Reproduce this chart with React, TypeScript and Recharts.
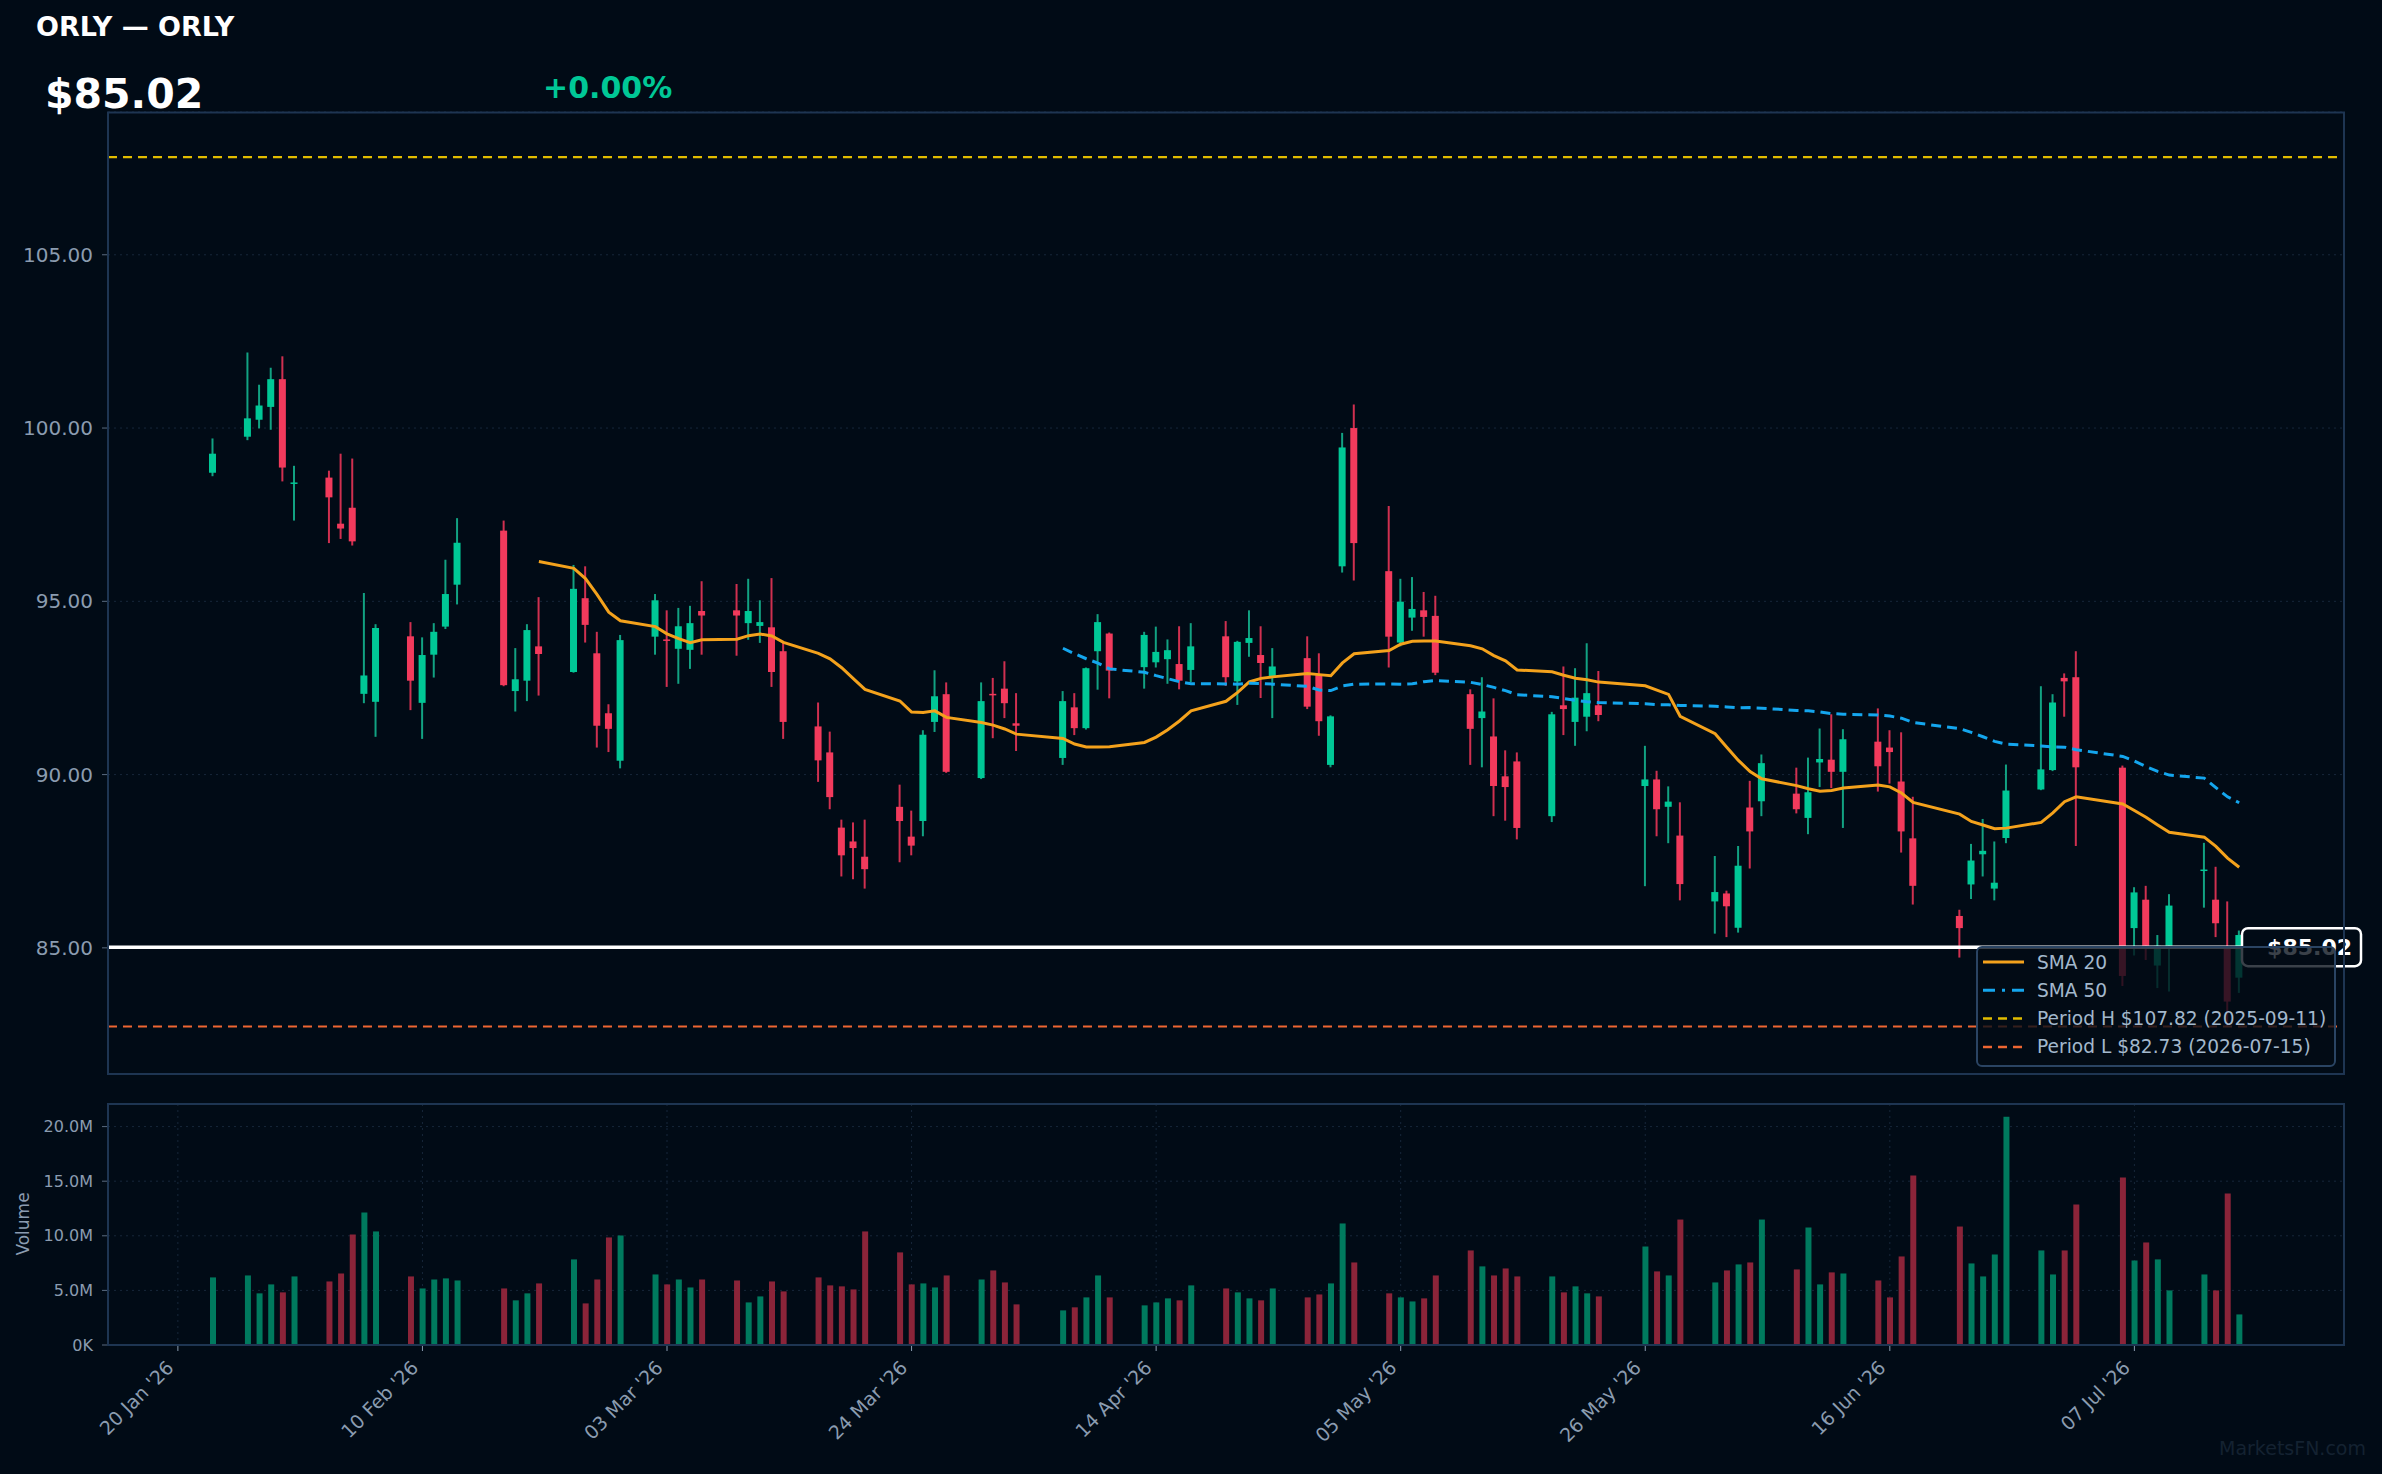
import React from 'react';
import { ComposedChart, Bar, Line, XAxis, YAxis, CartesianGrid, ReferenceLine, Cell } from 'recharts';

const dates = [
  '2026-01-23','2026-01-26','2026-01-27','2026-01-28','2026-01-29','2026-01-30',
  '2026-02-02','2026-02-03','2026-02-04','2026-02-05','2026-02-06','2026-02-09','2026-02-10','2026-02-11','2026-02-12','2026-02-13','2026-02-17','2026-02-18','2026-02-19','2026-02-20','2026-02-23','2026-02-24','2026-02-25','2026-02-26','2026-02-27',
  '2026-03-02','2026-03-03','2026-03-04','2026-03-05','2026-03-06','2026-03-09','2026-03-10','2026-03-11','2026-03-12','2026-03-13','2026-03-16','2026-03-17','2026-03-18','2026-03-19','2026-03-20','2026-03-23','2026-03-24','2026-03-25','2026-03-26','2026-03-27','2026-03-30','2026-03-31',
  '2026-04-01','2026-04-02','2026-04-06','2026-04-07','2026-04-08','2026-04-09','2026-04-10','2026-04-13','2026-04-14','2026-04-15','2026-04-16','2026-04-17','2026-04-20','2026-04-21','2026-04-22','2026-04-23','2026-04-24','2026-04-27','2026-04-28','2026-04-29','2026-04-30',
  '2026-05-01','2026-05-04','2026-05-05','2026-05-06','2026-05-07','2026-05-08','2026-05-11','2026-05-12','2026-05-13','2026-05-14','2026-05-15','2026-05-18','2026-05-19','2026-05-20','2026-05-21','2026-05-22','2026-05-26','2026-05-27','2026-05-28','2026-05-29',
  '2026-06-01','2026-06-02','2026-06-03','2026-06-04','2026-06-05','2026-06-08','2026-06-09','2026-06-10','2026-06-11','2026-06-12','2026-06-15','2026-06-16','2026-06-17','2026-06-18','2026-06-22','2026-06-23','2026-06-24','2026-06-25','2026-06-26','2026-06-29','2026-06-30',
  '2026-07-01','2026-07-02','2026-07-06','2026-07-07','2026-07-08','2026-07-09','2026-07-10','2026-07-13','2026-07-14','2026-07-15','2026-07-16',
];

const opens = [
  98.71, 99.75, 100.24, 100.61, 101.41, 98.40,
  98.57, 97.24, 97.70, 92.33, 92.10, 93.99, 92.07, 93.46, 94.27, 95.48, 97.04, 92.41, 92.71, 93.70, 92.96, 95.09, 93.50, 91.77, 90.40,
  93.98, 93.90, 93.63, 93.60, 94.72, 94.74, 94.37, 94.29, 94.25, 93.56, 91.39, 90.64, 88.47, 88.07, 87.63, 89.07, 88.21, 88.66, 91.52, 92.32, 89.90, 92.33,
  92.48, 91.48, 90.48, 91.94, 91.34, 93.56, 94.07, 93.10, 93.24, 93.33, 93.19, 93.02, 93.99, 92.69, 93.80, 93.45, 92.81, 93.36, 92.87, 90.28, 96.01,
  100.00, 95.87, 93.81, 94.53, 94.74, 94.58, 92.32, 91.63, 91.10, 89.95, 90.38, 88.80, 92.00, 91.52, 91.67, 92.00, 89.67, 89.86, 89.07, 88.24,
  86.34, 86.57, 85.58, 89.05, 89.23, 89.45, 88.75, 90.35, 90.43, 90.08, 90.95, 90.78, 89.80, 88.16, 85.92, 86.83, 87.70, 86.71, 88.17, 89.57, 90.13,
  92.79, 92.81, 90.20, 85.57, 86.39, 84.49, 85.06, 87.24, 86.39, 85.05, 84.14,
];

const highs = [
  99.70, 102.18, 101.25, 101.74, 102.07, 98.91,
  98.77, 99.26, 99.12, 95.24, 94.34, 94.40, 93.96, 94.37, 96.20, 97.40, 97.33, 93.65, 94.34, 95.12, 96.05, 96.01, 94.12, 92.03, 94.03,
  95.21, 94.74, 94.81, 94.87, 95.58, 95.50, 95.65, 95.03, 95.67, 93.81, 92.08, 91.24, 88.70, 88.62, 88.70, 89.71, 88.96, 91.28, 93.01, 92.66, 92.66, 92.79,
  93.27, 92.35, 92.41, 92.35, 93.09, 94.63, 94.10, 94.12, 94.27, 93.90, 94.28, 94.37, 94.43, 93.86, 94.74, 94.28, 93.65, 93.99, 93.50, 91.71, 99.86,
  100.68, 97.75, 95.65, 95.70, 95.27, 95.16, 92.46, 92.81, 92.20, 90.70, 90.64, 91.81, 93.12, 93.07, 93.79, 92.99, 90.83, 90.11, 89.66, 89.20,
  87.65, 86.65, 87.94, 89.82, 90.58, 90.20, 90.49, 91.33, 91.74, 91.31, 91.91, 91.28, 91.22, 89.36, 86.10, 88.00, 88.72, 88.07, 90.29, 92.55, 92.32,
  92.92, 93.56, 90.26, 86.75, 86.79, 85.37, 86.55, 88.03, 87.34, 86.34, 85.50,
];

const lows = [
  98.61, 99.65, 99.99, 99.95, 98.46, 97.33,
  96.68, 96.80, 96.61, 92.06, 91.09, 91.86, 91.03, 92.80, 94.20, 94.91, 92.55, 91.82, 92.12, 92.28, 92.94, 93.81, 90.78, 90.65, 90.18,
  93.46, 92.53, 92.62, 93.05, 93.46, 93.43, 93.89, 93.80, 92.53, 91.03, 89.79, 89.00, 87.06, 86.98, 86.71, 87.47, 87.67, 88.22, 91.23, 90.05, 89.87, 91.05,
  91.63, 90.68, 90.28, 91.14, 91.30, 92.45, 92.20, 92.48, 93.09, 92.62, 92.46, 92.67, 92.56, 92.01, 93.40, 92.21, 91.63, 91.89, 91.12, 90.21, 95.83,
  95.60, 93.09, 93.70, 94.15, 93.98, 92.87, 90.28, 90.21, 88.80, 88.67, 88.13, 88.63, 91.14, 90.83, 91.25, 91.54, 86.78, 88.22, 88.02, 86.37,
  85.41, 85.31, 85.44, 87.29, 88.80, 88.88, 88.28, 89.64, 89.61, 88.46, 89.51, 89.74, 87.75, 86.25, 84.72, 86.41, 87.06, 86.37, 88.02, 89.55, 90.10,
  91.67, 87.94, 83.90, 84.78, 84.65, 83.84, 83.74, 86.16, 85.31, 82.73, 83.70,
];

const closes = [
  99.26, 100.28, 100.65, 101.41, 98.86, 98.43,
  98.00, 97.10, 96.73, 92.86, 94.23, 92.71, 93.45, 94.12, 95.21, 96.69, 92.58, 92.75, 94.17, 93.48, 95.36, 94.32, 91.41, 91.32, 93.88,
  95.03, 93.86, 94.28, 94.37, 94.59, 94.59, 94.72, 94.40, 92.96, 91.52, 90.41, 89.35, 87.67, 87.88, 87.27, 88.66, 87.95, 91.15, 92.26, 90.08, 92.12, 92.30,
  92.06, 91.41, 92.12, 91.34, 93.07, 94.40, 93.00, 94.03, 93.54, 93.59, 92.71, 93.70, 92.81, 93.83, 93.94, 93.22, 93.12, 91.96, 91.54, 91.68, 99.44,
  96.68, 93.98, 94.99, 94.78, 94.55, 92.94, 91.32, 91.82, 89.67, 89.64, 88.46, 91.74, 91.89, 92.22, 92.35, 91.72, 89.86, 89.00, 89.22, 86.84,
  86.61, 86.20, 87.37, 88.36, 90.33, 89.00, 89.49, 90.45, 90.08, 91.02, 90.24, 90.65, 88.36, 86.79, 85.57, 87.52, 87.80, 86.88, 89.54, 90.15, 92.08,
  92.69, 90.21, 84.19, 86.60, 85.06, 85.06, 86.22, 87.26, 85.71, 83.45, 85.37,
];

// volume in millions
const volumes = [
  6.19, 6.37, 4.73, 5.55, 4.82, 6.28,
  5.82, 6.55, 10.12, 12.13, 10.40, 6.28, 5.18, 6.00, 6.10, 5.91, 5.18, 4.09, 4.73, 5.64, 7.84, 3.81, 6.00, 9.85, 10.03,
  6.46, 5.55, 6.00, 5.27, 6.00, 5.91, 3.90, 4.45, 5.82, 4.91, 6.19, 5.46, 5.37, 5.09, 10.40, 8.48, 5.55, 5.64, 5.27, 6.37, 6.00, 6.83,
  5.73, 3.72, 3.17, 3.45, 4.36, 6.37, 4.36, 3.63, 3.90, 4.27, 4.09, 5.46, 5.18, 4.82, 4.27, 4.09, 5.18, 4.36, 4.63, 5.64, 11.13,
  7.56, 4.73, 4.36, 3.99, 4.27, 6.37, 8.66, 7.20, 6.37, 7.01, 6.28, 6.28, 4.82, 5.37, 4.73, 4.45, 9.02, 6.74, 6.37, 11.49,
  5.73, 6.83, 7.38, 7.56, 11.49, 6.92, 10.76, 5.55, 6.65, 6.55, 5.91, 4.36, 8.11, 15.52, 10.85, 7.47, 6.28, 8.29, 20.91, 8.66, 6.46,
  8.66, 12.87, 15.34, 7.74, 9.39, 7.84, 5.00, 6.46, 5.00, 13.87, 2.80,
];

const xTickDates = ['2026-01-20','2026-02-10','2026-03-03','2026-03-24','2026-04-14','2026-05-05','2026-05-26','2026-06-16','2026-07-07'];
const xTickLabels = ["20 Jan '26","10 Feb '26","03 Mar '26","24 Mar '26","14 Apr '26","05 May '26","26 May '26","16 Jun '26","07 Jul '26"];
const priceTicks = [85, 90, 95, 100, 105];
const volTicks = [0, 5, 10, 15, 20];

const symbol = 'ORLY';
const lastPrice = 85.02;
const changePct = '+0.00%';
const periodHigh = 107.82;
const periodHighDate = '2025-09-11';
const periodLow = 82.73;
const periodLowDate = '2026-07-15';

// ---------- derived ----------
const DAY = 86400000;
const BASE = Date.UTC(2026, 0, 20);
const dayOf = (d: string) => Math.round((Date.parse(d + 'T00:00:00Z') - BASE) / DAY);
const xTickDays = xTickDates.map(dayOf);

const sma = (n: number, i: number) => {
  if (i < n - 1) return null;
  let s = 0;
  for (let k = i - n + 1; k <= i; k++) s += closes[k];
  return s / n;
};

const rows = dates.map((d, i) => ({
  t: dayOf(d),
  o: opens[i], h: highs[i], l: lows[i], c: closes[i],
  range: [lows[i], highs[i]],
  vol: volumes[i],
  up: closes[i] >= opens[i],
  sma20: sma(20, i),
  sma50: sma(50, i),
}));

const BG = '#010b16';
const FONT = 'DejaVu Sans, sans-serif';
const TICK = '#8b9cb0';
const GRID = '#17273a';
const FRAME = '#1e3552';
const UP = '#00c896';
const DOWN = '#f23a5c';
const UPW = '#12a282';
const DOWNW = '#d03050';
const VUP = '#007a5e';
const VDOWN = '#8b2439';
const SMA20C = '#f4a21c';
const SMA50C = '#14a6ee';
const HC = '#e2bd00';
const LC = '#ee6632';

const W = 2382;
const H = 1474;
const X_DOMAIN: [number, number] = [-6, 186];

const Candle = (props: any) => {
  const { x, y, width, height, payload } = props;
  if (!payload) return null;
  const { o, h, l, c, up } = payload;
  const top = Math.min(y, y + height);
  const hh = Math.abs(height);
  const ppu = hh / (h - l || 1);
  const cx = x + width / 2;
  const yO = top + (h - o) * ppu;
  const yC = top + (h - c) * ppu;
  const bt = Math.min(yO, yC);
  const bh = Math.max(Math.abs(yO - yC), 1.5);
  return (
    <g>
      <line x1={cx} x2={cx} y1={top} y2={top + hh} stroke={up ? UPW : DOWNW} strokeWidth={2} />
      <rect x={cx - 3.5} y={bt} width={7} height={bh} fill={up ? UP : DOWN} />
    </g>
  );
};

const PriceTag = (props: any) => {
  const vb = props.viewBox || {};
  const right = (vb.x || 0) + (vb.width || 0) + 17;
  const cy = vb.y || 0;
  return (
    <g>
      <rect x={right - 119} y={cy - 19} width={119} height={38} rx={6} ry={6} fill={BG} stroke="#ffffff" strokeWidth={2.5} />
      <text x={right - 9} y={cy + 8} textAnchor="end" fill="#ffffff" fontSize={22} fontWeight="bold" fontFamily={FONT}>
        ${lastPrice.toFixed(2)}
      </text>
    </g>
  );
};

const DateTick = (props: any) => {
  const { x, y, payload } = props;
  const i = xTickDays.indexOf(payload.value);
  const tx = x - 3;
  const ty = y + 14;
  return (
    <text x={tx} y={ty} transform={`rotate(-45 ${tx} ${ty})`} textAnchor="end" fill={TICK} fontSize={19} fontFamily={FONT}>
      {i >= 0 ? xTickLabels[i] : ''}
    </text>
  );
};

const legendItems = [
  { label: 'SMA 20', color: SMA20C, dash: undefined as string | undefined, w: 3 },
  { label: 'SMA 50', color: SMA50C, dash: '12 7 3 7', w: 3 },
  { label: `Period H $${periodHigh.toFixed(2)} (${periodHighDate})`, color: HC, dash: '9 6', w: 2.5 },
  { label: `Period L $${periodLow.toFixed(2)} (${periodLowDate})`, color: LC, dash: '9 6', w: 2.5 },
];

export default function App() {
  return (
    <div style={{ position: 'fixed', left: 0, top: 0, width: W, height: H, background: BG, overflow: 'hidden', fontFamily: FONT }}>
      <div style={{ position: 'absolute', left: 0, top: 0 }}>
        <ComposedChart width={W} height={1090} data={rows} margin={{ top: 112, right: 38, bottom: 16, left: 0 }}>
          <CartesianGrid stroke={GRID} strokeDasharray="2 4" />
          <XAxis type="number" dataKey="t" domain={X_DOMAIN} ticks={xTickDays} allowDataOverflow height={0} tick={false} tickLine={false} axisLine={false} />
          <YAxis type="number" domain={[81.36, 109.12]} ticks={priceTicks} allowDataOverflow width={108}
            tickFormatter={(v: number) => v.toFixed(2)} tick={{ fill: TICK, fontSize: 20, fontFamily: FONT }}
            tickLine={{ stroke: '#5a6b80' }} tickSize={6} tickMargin={9} axisLine={false} />
          <ReferenceLine y={periodHigh} stroke={HC} strokeWidth={2.2} strokeDasharray="9 6" />
          <ReferenceLine y={periodLow} stroke={LC} strokeWidth={2.2} strokeDasharray="9 6" />
          <Bar dataKey="range" barSize={7} shape={<Candle />} isAnimationActive={false} />
          <Line dataKey="sma20" stroke={SMA20C} strokeWidth={3} dot={false} isAnimationActive={false} connectNulls={false} />
          <Line dataKey="sma50" stroke={SMA50C} strokeWidth={3} strokeDasharray="10 6" dot={false} isAnimationActive={false} connectNulls={false} />
          <ReferenceLine y={lastPrice} stroke="#ffffff" strokeWidth={3.5} label={<PriceTag />} />
        </ComposedChart>
      </div>
      <div style={{ position: 'absolute', left: 0, top: 1090 }}>
        <ComposedChart width={W} height={384} data={rows} margin={{ top: 14, right: 38, bottom: 0, left: 0 }}>
          <CartesianGrid stroke={GRID} strokeDasharray="2 4" />
          <XAxis type="number" dataKey="t" domain={X_DOMAIN} ticks={xTickDays} allowDataOverflow height={129}
            tick={<DateTick />} tickLine={{ stroke: '#8b9cb0' }} tickSize={6} tickMargin={4} axisLine={false} />
          <YAxis type="number" domain={[0, 22.07]} ticks={volTicks} allowDataOverflow width={108}
            tickFormatter={(v: number) => (v === 0 ? '0K' : v.toFixed(1) + 'M')} tick={{ fill: TICK, fontSize: 16, fontFamily: FONT }}
            tickLine={{ stroke: '#5a6b80' }} tickSize={6} tickMargin={9} axisLine={false} />
          <Bar dataKey="vol" barSize={6} isAnimationActive={false}>
            {rows.map((r, i) => (
              <Cell key={i} fill={r.up ? VUP : VDOWN} />
            ))}
          </Bar>
        </ComposedChart>
      </div>
      <svg width={W} height={H} style={{ position: 'absolute', left: 0, top: 0, pointerEvents: 'none' }}>
        <rect x={108} y={112.5} width={2236} height={961.5} fill="none" stroke={FRAME} strokeWidth={2} />
        <rect x={108} y={1104} width={2236} height={241} fill="none" stroke={FRAME} strokeWidth={2} />
        <text x={36} y={36} fill="#ffffff" fontSize={27} fontWeight="bold" fontFamily={FONT}>{`${symbol} — ${symbol}`}</text>
        <text x={45} y={108} fill="#ffffff" fontSize={41} fontWeight="bold" fontFamily={FONT}>${lastPrice.toFixed(2)}</text>
        <text x={543} y={98} fill={UP} fontSize={30} fontWeight="bold" fontFamily={FONT}>{changePct}</text>
        <text x={23} y={1224} transform="rotate(-90 23 1224)" textAnchor="middle" dominantBaseline="central" fill={TICK} fontSize={17} fontFamily={FONT}>Volume</text>
        <g>
          <rect x={1977} y={947} width={358} height={119} rx={5} ry={5} fill="rgba(2,12,22,0.78)" stroke="#2a4463" strokeWidth={2} />
          {legendItems.map((it, i) => (
            <g key={i}>
              <line x1={1983} x2={2024} y1={962 + i * 28.3} y2={962 + i * 28.3} stroke={it.color} strokeWidth={it.w} strokeDasharray={it.dash} />
              <text x={2037} y={962 + i * 28.3} dominantBaseline="central" fill="#a3b8cc" fontSize={18.6} fontFamily={FONT}>{it.label}</text>
            </g>
          ))}
        </g>
        <text x={2366} y={1455} textAnchor="end" fill="#142231" fontSize={19} fontFamily={FONT}>MarketsFN.com</text>
      </svg>
    </div>
  );
}
